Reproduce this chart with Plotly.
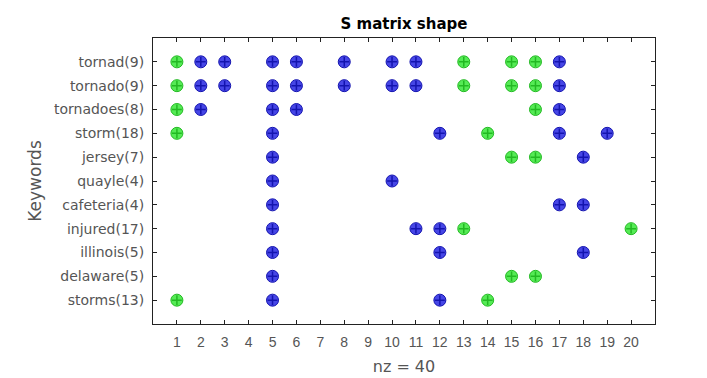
import plotly.graph_objects as go

keywords = ["tornad(9)", "tornado(9)", "tornadoes(8)", "storm(18)", "jersey(7)",
            "quayle(4)", "cafeteria(4)", "injured(17)", "illinois(5)",
            "delaware(5)", "storms(13)"]

# column positions of nonzeros per keyword (blue / green markers)
blue_cols = [
    [2, 3, 5, 6, 8, 10, 11, 17],
    [2, 3, 5, 6, 8, 10, 11, 17],
    [2, 5, 6, 17],
    [5, 12, 17, 19],
    [5, 18],
    [5, 10],
    [5, 17, 18],
    [5, 11, 12],
    [5, 12, 18],
    [5],
    [5, 12],
]
green_cols = [
    [1, 13, 15, 16],
    [1, 13, 15, 16],
    [1, 16],
    [1, 14],
    [15, 16],
    [],
    [],
    [13, 20],
    [],
    [15, 16],
    [1, 14],
]
x_ticks = list(range(1, 21))

def flatten(cols):
    xs, ys = [], []
    for kw, cs in zip(keywords, cols):
        for c in cs:
            xs.append(c)
            ys.append(kw)
    return xs, ys

bx, by = flatten(blue_cols)
gx, gy = flatten(green_cols)

fig = go.Figure()
for xs, ys, fill, dark in [(bx, by, "rgb(70,70,230)", "rgb(20,20,175)"),
                           (gx, gy, "rgb(85,235,85)", "rgb(35,185,35)")]:
    fig.add_trace(go.Scatter(x=xs, y=ys, mode="markers",
                             marker=dict(symbol="circle", size=12, color=fill,
                                         line=dict(color=dark, width=1)),
                             hoverinfo="skip", showlegend=False))
    fig.add_trace(go.Scatter(x=xs, y=ys, mode="markers",
                             marker=dict(symbol="cross-thin", size=7,
                                         line=dict(color=dark, width=1.5)),
                             hoverinfo="skip", showlegend=False))

SANS = "DejaVu Sans, Arial, sans-serif"
ARIAL = "Liberation Sans, Arial, sans-serif"
fig.update_layout(
    width=707, height=378,
    margin=dict(l=145, r=60, t=30, b=62),
    paper_bgcolor="white", plot_bgcolor="white",
    title=dict(text="<b>S matrix shape</b>", x=0.5, xanchor="center",
               xref="paper", y=1 - 16/378, yanchor="middle",
               font=dict(family=SANS, size=15, color="black")),
    xaxis=dict(range=[0, 21], tickvals=x_ticks, ticktext=[str(v) for v in x_ticks],
               ticks="inside", ticklen=4, tickcolor="#222", mirror="ticks",
               showline=True, linecolor="#222", linewidth=1, showgrid=False,
               zeroline=False, ticklabelstandoff=5,
               tickfont=dict(family=ARIAL, size=14, color="#555"),
               title=dict(text="nz = 40", font=dict(family=SANS, size=16, color="#555"), standoff=12)),
    yaxis=dict(type="category", categoryorder="array", categoryarray=keywords,
               range=[11, -1], ticks="inside", ticklen=4, tickcolor="#222",
               mirror="ticks", showline=True, linecolor="#222", linewidth=1,
               showgrid=False, zeroline=False, ticklabelstandoff=5,
               tickfont=dict(family=SANS, size=14, color="#555"),
               title=dict(text="Keywords", font=dict(family=SANS, size=17, color="#555"), standoff=8)),
)

fig.write_html("out.html")
